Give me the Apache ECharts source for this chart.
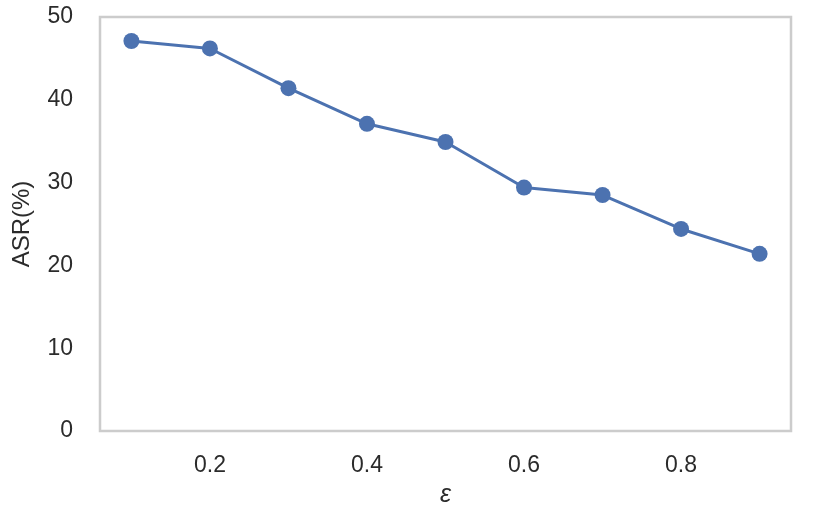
<!DOCTYPE html>
<html>
<head>
<meta charset="utf-8">
<script src="https://cdn.jsdelivr.net/npm/echarts@6/dist/echarts.min.js"></script>
<style>
  html, body { margin: 0; padding: 0; background: #fff; }
  #main { width: 831px; height: 528px; }
</style>
</head>
<body>
<div id="main"></div>
<script>
// data
const epsValues = [0.1, 0.2, 0.3, 0.4, 0.5, 0.6, 0.7, 0.8, 0.9]
const asrValues = [47.1, 46.2, 41.4, 37.1, 34.9, 29.4, 28.5, 24.4, 21.4]
const xTicks = [0.2, 0.4, 0.6, 0.8]

const textColor = '#2b2b2b'
const font = 'Liberation Sans, Arial, sans-serif'

var chart = echarts.init(document.getElementById('main'))
var option = {
  animation: false,
  backgroundColor: '#ffffff',
  grid: {
    left: 100, right: 40, top: 17, bottom: 97,
    show: true,
    borderColor: '#cccccc',
    borderWidth: 2.5,
    containLabel: false,
  },
  xAxis: {
    type: 'value',
    min: 0.06,
    max: 0.94,
    name: 'ε',
    nameLocation: 'middle',
    nameGap: 52,
    nameTextStyle: { fontSize: 25, fontStyle: 'italic', color: textColor, fontFamily: font },
    axisLine: { show: false },
    axisTick: { show: false },
    splitLine: { show: false },
    axisLabel: {
      customValues: xTicks,
      margin: 23,
      fontSize: 23,
      color: textColor,
      fontFamily: font,
      formatter: (v) => v.toFixed(1),
    },
  },
  yAxis: {
    type: 'value',
    min: 0,
    max: 50,
    interval: 10,
    name: 'ASR(%)',
    nameLocation: 'middle',
    nameGap: 66,
    nameTextStyle: { fontSize: 24, color: textColor, fontFamily: font },
    axisLine: { show: false },
    axisTick: { show: false },
    splitLine: { show: false },
    axisLabel: { margin: 27, fontSize: 23, color: textColor, fontFamily: font },
  },
  series: [
    {
      type: 'line',
      data: epsValues.map((x, i) => [x, asrValues[i]]),
      symbol: 'circle',
      symbolSize: 16,
      lineStyle: { color: '#4c72b0', width: 3 },
      itemStyle: { color: '#4c72b0' },
    },
  ],
}
chart.setOption(option)
</script>
</body>
</html>
